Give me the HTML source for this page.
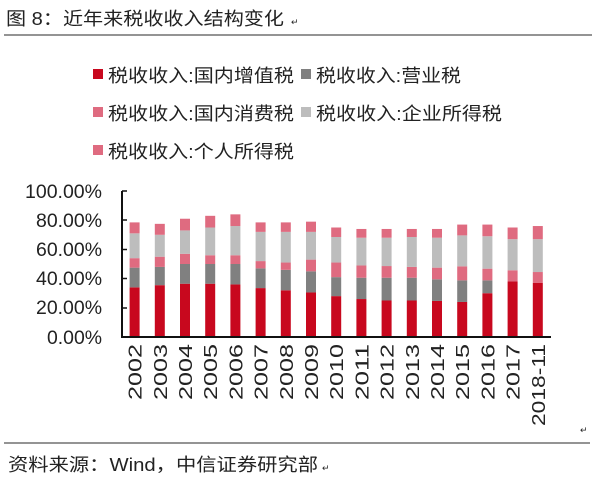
<!DOCTYPE html>
<html><head><meta charset="utf-8"><style>
body{margin:0;background:#fff;}
svg text{font-family:"Liberation Sans","Noto Sans CJK SC",sans-serif;fill:#222;}
</style></head><body>
<svg width="600" height="480" xmlns="http://www.w3.org/2000/svg">
<rect width="600" height="480" fill="#fff"/>
<text x="6" y="25" font-size="18" textLength="278" lengthAdjust="spacingAndGlyphs">图 8：近年来税收收入结构变化</text>
<text x="291" y="25" font-size="9" fill="#999">↵</text>
<line x1="4" y1="35" x2="592" y2="35" stroke="#555" stroke-width="1.3"/>
<g font-size="18">
<rect x="93" y="69" width="10" height="10" fill="#c8081e"/><text x="108" y="82" textLength="186" lengthAdjust="spacingAndGlyphs">税收收入:国内增值税</text>
<rect x="301" y="69" width="10" height="10" fill="#808080"/><text x="316" y="82" textLength="145" lengthAdjust="spacingAndGlyphs">税收收入:营业税</text>
<rect x="93" y="107" width="10" height="10" fill="#df6b80"/><text x="108" y="120" textLength="186" lengthAdjust="spacingAndGlyphs">税收收入:国内消费税</text>
<rect x="301" y="107" width="10" height="10" fill="#bdbdbd"/><text x="316" y="120" textLength="186" lengthAdjust="spacingAndGlyphs">税收收入:企业所得税</text>
<rect x="93" y="145" width="10" height="10" fill="#df6b80"/><text x="108" y="158" textLength="186" lengthAdjust="spacingAndGlyphs">税收收入:个人所得税</text>
</g>
<g font-size="19">
<text x="25" y="198" textLength="77" lengthAdjust="spacingAndGlyphs">100.00%</text><text x="36" y="227" textLength="66" lengthAdjust="spacingAndGlyphs">80.00%</text><text x="36" y="256" textLength="66" lengthAdjust="spacingAndGlyphs">60.00%</text><text x="36" y="285" textLength="66" lengthAdjust="spacingAndGlyphs">40.00%</text><text x="36" y="314" textLength="66" lengthAdjust="spacingAndGlyphs">20.00%</text><text x="47" y="344" textLength="55" lengthAdjust="spacingAndGlyphs">0.00%</text>
</g>
<g id="bars"></g>
<line x1="122" y1="191" x2="122" y2="337" stroke="#111" stroke-width="2"/>
<line x1="121" y1="337" x2="551" y2="337" stroke="#111" stroke-width="2"/>
<g stroke="#111" stroke-width="1.5">
<line x1="122" y1="191" x2="127" y2="191"/><line x1="122" y1="220" x2="127" y2="220"/><line x1="122" y1="249.5" x2="127" y2="249.5"/><line x1="122" y1="278.5" x2="127" y2="278.5"/><line x1="122" y1="308" x2="127" y2="308"/>
</g>
<g id="lbl" font-size="18"></g>
<text x="580" y="433" font-size="9" fill="#999">↵</text>
<line x1="4" y1="443" x2="590" y2="443" stroke="#555" stroke-width="1.3"/>
<text x="8" y="471" font-size="18" textLength="310" lengthAdjust="spacingAndGlyphs">资料来源：Wind，中信证券研究部</text>
<text x="322" y="471" font-size="9" fill="#999">↵</text>
<script>
var d=[[34,47.5,54,71,78.5],[35.5,48,55,70,77.5],[36.5,50,57,73,81],[36.5,50,56,75,83],[36,50,56,76,84],[33.5,47,52,72,78.5],[32,46,51,72,78.5],[30.5,45,53,72,79],[28,41,51,68.5,75],[26,40.6,49,68,74],[25,40.6,48.6,68,74],[25,40.6,48,68.5,74],[24.7,39.5,47.5,68,74],[24,38.8,48.4,69.6,77],[30,38.8,46.8,69,77],[38,38,45.7,67,75],[37,37,44.5,67,76]];
var labs=["2002","2003","2004","2005","2006","2007","2008","2009","2010","2011","2012","2013","2014","2015","2016","2017","2018-11"];
var c=["#c8081e","#808080","#df6b80","#bdbdbd","#df6b80"];
var ns="http://www.w3.org/2000/svg",g=document.getElementById("bars"),L=document.getElementById("lbl");
d.forEach(function(r,i){var cx=122+25.2*(i+0.5),p=0;
r.forEach(function(v,k){var h=(v-p)*1.46;if(h>0){var e=document.createElementNS(ns,"rect");e.setAttribute("x",cx-5);e.setAttribute("y",337-v*1.46);e.setAttribute("width",10);e.setAttribute("height",h);e.setAttribute("fill",c[k]);g.appendChild(e);}p=v;});
var t=document.createElementNS(ns,"text");t.setAttribute("transform","translate("+(cx+7)+",344) rotate(-90)");t.setAttribute("text-anchor","end");t.setAttribute("textLength",labs[i].length>4?82:56);t.setAttribute("lengthAdjust","spacingAndGlyphs");t.textContent=labs[i];L.appendChild(t);});
</script>
</svg>
</body></html>
